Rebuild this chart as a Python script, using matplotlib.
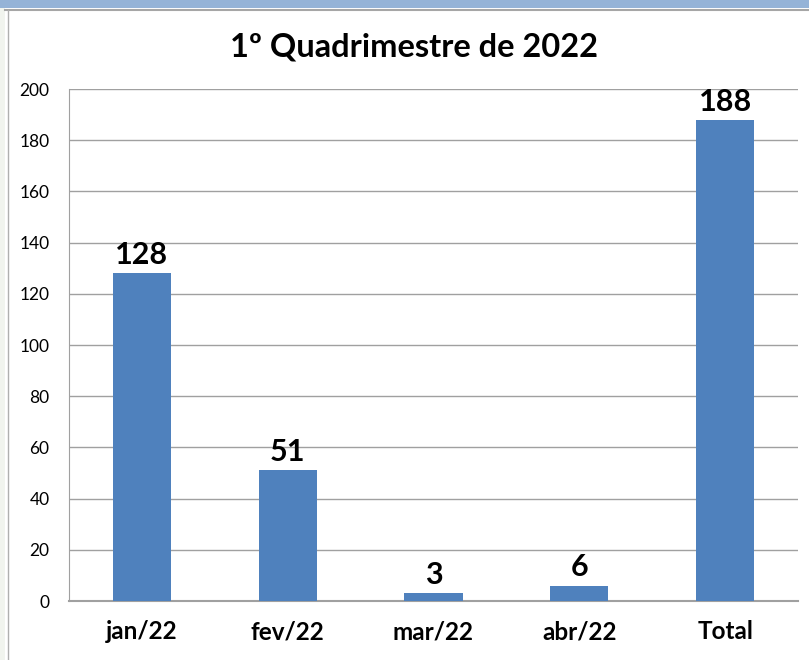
import matplotlib.pyplot as plt
from matplotlib.patches import Rectangle
from matplotlib.lines import Line2D

plt.rcParams['font.family'] = ['Lato', 'DejaVu Sans']

categories = ["jan/22", "fev/22", "mar/22", "abr/22", "Total"]
values = [128, 51, 3, 6, 188]
y_ticks = [0, 20, 40, 60, 80, 100, 120, 140, 160, 180, 200]

W, H = 809, 660
fig = plt.figure(figsize=(W / 100, H / 100), dpi=100)
fig.patch.set_facecolor("white")

# window frame around the chart
fig.add_artist(Rectangle((0, 1 - 8 / H), 1, 8 / H, transform=fig.transFigure,
                         facecolor="#95b3d7", edgecolor="none"))
fig.add_artist(Rectangle((0, 0), 5 / W, 1 - 8 / H, transform=fig.transFigure,
                         facecolor="#f1f4ee", edgecolor="none"))
fig.add_artist(Line2D([5 / W, 1], [1 - 10 / H, 1 - 10 / H], transform=fig.transFigure,
                      color="#a6a6a6", lw=1.5))
fig.add_artist(Line2D([8 / W, 8 / W], [0, 1 - 10 / H], transform=fig.transFigure,
                      color="#b0b0b0", lw=1))

left, right, top, bottom = 69, 798, 89, 601
ax = fig.add_axes([left / W, 1 - bottom / H, (right - left) / W, (bottom - top) / H])

x = range(len(categories))
bars = ax.bar(x, values, width=0.4, color="#4f81bd", zorder=3)
for b, v in zip(bars, values):
    ax.annotate(str(v), (b.get_x() + b.get_width() / 2, v), xytext=(0, 3),
                textcoords="offset points", ha="center", va="bottom",
                fontsize=22, fontweight="bold", color="black")

ax.set_xlim(-0.5, len(categories) - 0.5)
ax.set_ylim(0, 200)
ax.set_yticks(y_ticks)
ax.set_xticks(list(x))
ax.set_xticklabels(categories, fontsize=17.5, fontweight="bold")
ax.tick_params(axis="x", length=0, pad=14)
ax.tick_params(axis="y", length=0, pad=14, labelsize=12.5)
ax.yaxis.grid(True, color="#a0a0a0", lw=1)
ax.set_axisbelow(True)
for s in ["top", "right"]:
    ax.spines[s].set_visible(False)
ax.spines["left"].set_color("#a0a0a0")
ax.spines["bottom"].set_color("#a0a0a0")
ax.spines["bottom"].set_linewidth(1.5)

fig.text(414 / W, 1 - 47 / H, "1º Quadrimestre de 2022", ha="center", va="center",
         fontsize=23.5, fontweight="bold")

fig.savefig("out.png", dpi=100)
